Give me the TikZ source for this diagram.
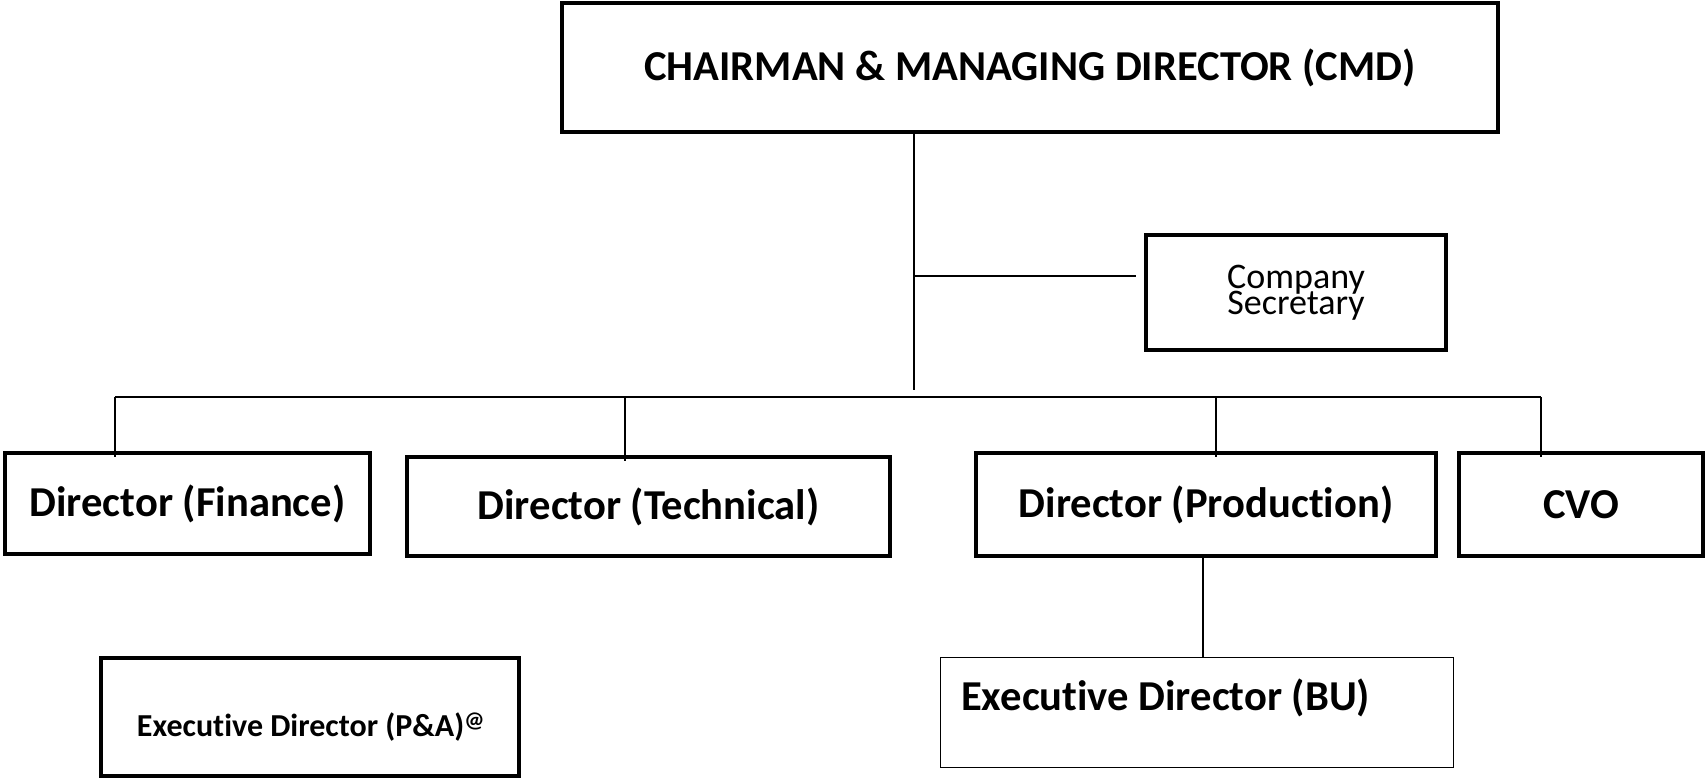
\documentclass[tikz,border=0pt]{standalone}
\usepackage{fontspec}
\setmainfont{Carlito}[RawFeature={-liga,-calt,-clig}]
\usetikzlibrary{positioning}
\newcommand\tightlines{\lineskiplimit=-30pt\relax}

\begin{document}
\begin{tikzpicture}[x=1pt,y=-1pt,
    post/.style={draw=black,line width=3.2pt,inner sep=0pt,align=center,
                 font=\fontsize{42.6}{46}\selectfont\bfseries},
    thinpost/.style={draw=black,line width=1.3pt,inner sep=0pt},
    link/.style={draw=black,line width=1.6pt}]
                \useasboundingbox (0,0) rectangle (1706,779);
                % boxes
                \node [post,minimum width=936,minimum height=129] (cmd) at (1030,67.5) {CHAIRMAN \& MANAGING DIRECTOR (CMD)};
                \node [post,minimum width=300,minimum height=115,font=\fontsize{36}{26}\selectfont\tightlines] (sec) at (1296,292.5) {Company\\Secretary};
                \node [post,minimum width=365,minimum height=101] (fin) at (187.5,503.5) {Director (Finance)};
                \node [post,minimum width=483,minimum height=99] (tech) at (648.5,506.5) {Director (Technical)};
                \node [post,minimum width=460,minimum height=103] (prod) at (1206,504.5) {Director (Production)};
                \node [post,minimum width=244,minimum height=103] (cvo) at (1581,504.5) {CVO};
                \node [post,minimum width=418,minimum height=118] (edpa) at (310,717) {};
                \node [inner sep=0pt,font=\fontsize{32}{36}\selectfont\bfseries] (edpatext) at (311,727) {Executive Director (P\&A)\textsuperscript{@}};
                \node [thinpost,minimum width=513,minimum height=110] (edbu) at (1197,712.5) {};
                \node [anchor=west,inner sep=0pt,font=\fontsize{42.6}{46}\selectfont\bfseries] (edbutext) at (961,698) {Executive Director (BU)};
                % lines
                \coordinate (trunk) at (914,390);
                \coordinate (secjoin) at (914,276);
                \draw [link] (cmd.south -| trunk) -- (trunk);
                \draw [link,shorten >=8pt] (secjoin) -- (secjoin -| sec.west);
                \coordinate (busl) at (115,397);
                \coordinate (busr) at (1541,397);
                \draw [link] (busl) -- (busr);
                \foreach \nd/\xx in {fin/115,tech/625,prod/1216,cvo/1541}
                    \draw [link] (\xx,397) -- ([yshift=-6pt]\nd.north -| \xx,0);
                \draw [link] ([xshift=-3pt]prod.south) -- ([xshift=-3pt]prod.south |- edbu.north);
\end{tikzpicture}
\end{document}
